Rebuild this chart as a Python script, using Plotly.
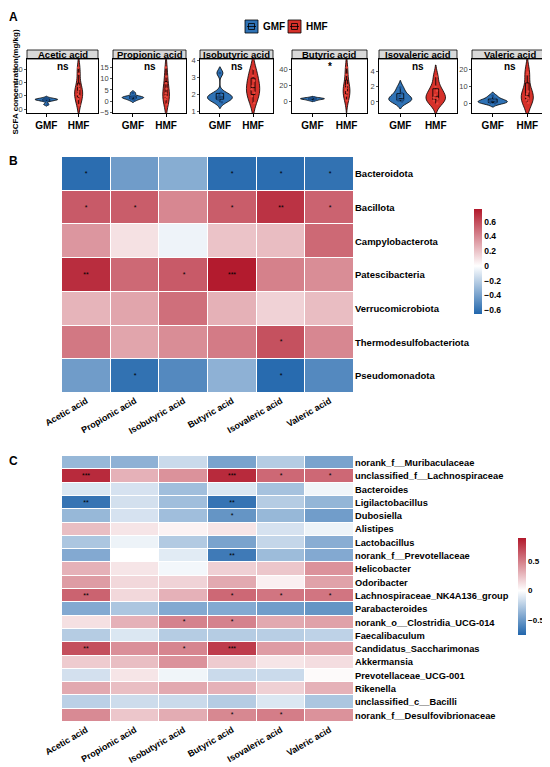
import plotly.graph_objects as go

W, H = 550, 767          # reference picture size
OFF = 8                  # default page margin of the html body
FW, FH = W - OFF, H - OFF
FONT = "Liberation Sans, Arial, sans-serif"

acids = ["Acetic acid", "Propionic acid", "Isobutyric acid",
         "Butyric acid", "Isovaleric acid", "Valeric acid"]
groups = ["GMF", "HMF"]

gmf_acetic = [7, 12, 13.5, 14, 14.5, 15, 16.5]
hmf_acetic = [6, 15, 19, 22, 26, 30, 34, 53, 62]
gmf_propionic = [0.4, 1.1, 1.4, 1.6, 1.9, 2.2, 3.6]
hmf_propionic = [-1.5, 0.8, 1.8, 2.2, 3.5, 5.5, 8, 11, 15]
gmf_isobutyric = [1.55, 1.7, 1.8, 1.85, 1.95, 2.1, 3.25]
hmf_isobutyric = [1.5, 1.9, 2.1, 2.3, 2.5, 2.8, 3.1, 3.5]
gmf_butyric = [1.0, 2.2, 2.8, 3.2, 3.6, 4.5]
hmf_butyric = [1, 7, 11, 14, 16, 20, 33, 42]
gmf_isovaleric = [0.05, 0.2, 0.3, 0.45, 0.8, 1.2, 1.9]
hmf_isovaleric = [-0.2, 0.2, 0.4, 0.6, 0.9, 1.5, 2.0, 3.4]
gmf_valeric = [0.1, 0.5, 0.9, 1.3, 2.0, 2.8, 4.5]
hmf_valeric = [0.5, 2, 3, 4, 5.5, 7, 17, 18]

gmf_values = [gmf_acetic, gmf_propionic, gmf_isobutyric, gmf_butyric, gmf_isovaleric, gmf_valeric]
hmf_values = [hmf_acetic, hmf_propionic, hmf_isobutyric, hmf_butyric, hmf_isovaleric, hmf_valeric]
signif_a = ["ns", "ns", "ns", "*", "ns", "ns"]

y_ranges = [[-6, 75], [-5.3, 18.8], [0.92, 4.07], [-14.7, 52.6], [-1.47, 5.7], [-5.5, 25.9]]
y_ticks = [[0, 20, 40, 60], [-5, 0, 5, 10, 15], [1, 2, 3, 4], [0, 20, 40], [0, 2, 4], [0, 10, 20]]

# ── Panel B data: phylum vs SCFA correlation ─────────────────────────────────
phyla = ["Bacteroidota", "Bacillota", "Campylobacterota", "Patescibacteria",
         "Verrucomicrobiota", "Thermodesulfobacteriota", "Pseudomonadota"]
r_phylum = [
    [-0.62, -0.42, -0.35, -0.62, -0.62, -0.60],
    [0.55, 0.54, 0.40, 0.54, 0.68, 0.52],
    [0.35, 0.10, -0.05, 0.20, 0.22, 0.50],
    [0.70, 0.50, 0.55, 0.76, 0.42, 0.38],
    [0.25, 0.30, 0.48, 0.26, 0.15, 0.22],
    [0.45, 0.30, 0.38, 0.44, 0.58, 0.40],
    [-0.42, -0.60, -0.50, -0.33, -0.63, -0.50],
]
sig_phylum = [
    ["*", "", "", "*", "*", "*"],
    ["*", "*", "", "*", "**", "*"],
    ["", "", "", "", "", ""],
    ["**", "", "*", "***", "", ""],
    ["", "", "", "", "", ""],
    ["", "", "", "", "*", ""],
    ["", "*", "", "", "*", ""],
]

# ── Panel C data: genus vs SCFA correlation ──────────────────────────────────
genera = ["norank_f__Muribaculaceae", "unclassified_f__Lachnospiraceae", "Bacteroides",
          "Ligilactobacillus", "Dubosiella", "Alistipes", "Lactobacillus",
          "norank_f__Prevotellaceae", "Helicobacter", "Odoribacter",
          "Lachnospiraceae_NK4A136_group", "Parabacteroides", "norank_o__Clostridia_UCG-014",
          "Faecalibaculum", "Candidatus_Saccharimonas", "Akkermansia",
          "Prevotellaceae_UCG-001", "Rikenella", "unclassified_c__Bacilli",
          "norank_f__Desulfovibrionaceae"]
r_genus = [
    [-0.35, -0.38, -0.18, -0.45, -0.25, -0.45],
    [0.82, 0.30, 0.42, 0.82, 0.58, 0.58],
    [-0.12, -0.14, -0.32, -0.12, -0.30, -0.05],
    [-0.68, -0.15, -0.32, -0.68, -0.25, -0.36],
    [-0.35, -0.14, -0.32, -0.52, -0.35, -0.48],
    [0.25, 0.10, 0.05, 0.10, -0.14, -0.06],
    [-0.28, -0.06, -0.26, -0.45, -0.20, -0.40],
    [-0.42, 0.00, -0.10, -0.65, -0.33, -0.42],
    [0.30, 0.10, -0.04, 0.18, 0.22, 0.42],
    [0.38, 0.15, 0.17, 0.33, 0.06, 0.36],
    [0.60, 0.15, 0.30, 0.58, 0.53, 0.53],
    [-0.42, -0.28, -0.42, -0.42, -0.48, -0.52],
    [0.12, 0.30, 0.48, 0.48, 0.33, 0.36],
    [-0.25, -0.12, -0.25, -0.25, -0.24, -0.22],
    [0.68, 0.43, 0.47, 0.75, 0.38, 0.36],
    [0.20, 0.25, 0.42, 0.20, 0.10, 0.13],
    [-0.15, 0.10, -0.05, -0.18, -0.18, 0.02],
    [0.33, 0.25, 0.33, 0.30, 0.18, 0.30],
    [-0.23, -0.17, -0.18, -0.25, -0.12, -0.28],
    [0.45, 0.22, 0.32, 0.46, 0.50, 0.42],
]
sig_genus = [
    ["", "", "", "", "", ""],
    ["***", "", "", "***", "*", "*"],
    ["", "", "", "", "", ""],
    ["**", "", "", "**", "", ""],
    ["", "", "", "*", "", ""],
    ["", "", "", "", "", ""],
    ["", "", "", "", "", ""],
    ["", "", "", "**", "", ""],
    ["", "", "", "", "", ""],
    ["", "", "", "", "", ""],
    ["**", "", "", "*", "*", "*"],
    ["", "", "", "", "", ""],
    ["", "", "*", "*", "", ""],
    ["", "", "", "", "", ""],
    ["**", "", "*", "***", "", ""],
    ["", "", "", "", "", ""],
    ["", "", "", "", "", ""],
    ["", "", "", "", "", ""],
    ["", "", "", "", "", ""],
    ["", "", "", "*", "*", ""],
]

# ── Styling ──────────────────────────────────────────────────────────────────
COLORS = {"GMF": "#2F72B5", "HMF": "#D6312A", "GMF_pt": "#1D4F8A", "HMF_pt": "#E8473C"}
BLUE, RED = "#2166AC", "#B2182B"
# violin widths as drawn (ggplot scales them by area)
VIOLIN_W = {"GMF": [0.7, 0.65, 0.75, 0.7, 0.65, 0.85],
            "HMF": [0.25, 0.2, 0.4, 0.2, 0.55, 0.35]}


def px(x, y):
    """reference pixel -> paper coords"""
    return (x - OFF) / FW, 1 - (y - OFF) / FH


def sfx(n):
    return "" if n == 1 else str(n)


def div_scale(zmin, zmax):
    mid = -zmin / (zmax - zmin)
    return [[0, BLUE], [mid, "#FFFFFF"], [1, RED]]


def label(x, y, text, size, xanchor="center", yanchor="middle", xref="paper", yref="paper", **kw):
    annotations.append(dict(x=x, y=y, xref=xref, yref=yref, text=text, showarrow=False,
                            xanchor=xanchor, yanchor=yanchor,
                            font=dict(family=FONT, size=size, color="black", weight="bold"), **kw))


fig = go.Figure()
layout = {}
shapes, annotations = [], []

a_left = [27, 113, 200, 292, 379, 472]
a_right = [98, 186, 273, 367, 457, 548]
a_top, a_bot, strip_top = 59, 113, 50

for i in range(6):
    n = i + 1
    s = sfx(n)
    for grp, vals in (("GMF", gmf_values[i]), ("HMF", hmf_values[i])):
        fig.add_trace(go.Violin(
            x=[grp] * len(vals), y=vals, name=f"{grp}_{n}",
            xaxis=f"x{s}", yaxis=f"y{s}",
            fillcolor=COLORS[grp], opacity=1,
            line=dict(color="black", width=0.8),
            box=dict(visible=True, width=0.3, fillcolor=COLORS[grp],
                     line=dict(color="black", width=0.8)),
            meanline=dict(visible=False),
            points="all", pointpos=0, jitter=0.3,
            marker=dict(size=2.5, color=COLORS[grp + "_pt"]),
            width=VIOLIN_W[grp][i],
            showlegend=False, hoverinfo="y",
        ))
    x0, _ = px(a_left[i], 0)
    x1, _ = px(a_right[i], 0)
    _, y0 = px(0, a_bot)
    _, y1 = px(0, a_top)
    layout[f"xaxis{s}"] = dict(
        domain=[x0, x1], anchor=f"y{s}", range=[-0.6, 1.6], automargin=False,
        categoryorder="array", categoryarray=groups,
        showline=True, linecolor="black", linewidth=0.8, mirror=True,
        ticks="outside", ticklen=3, tickcolor="black",
        tickfont=dict(family=FONT, size=10, color="black", weight="bold"),
        showgrid=False, zeroline=False, fixedrange=True,
    )
    layout[f"yaxis{s}"] = dict(
        domain=[y0, y1], anchor=f"x{s}", range=y_ranges[i], tickvals=y_ticks[i],
        automargin=False,
        showline=True, linecolor="black", linewidth=0.8, mirror=True,
        ticks="outside", ticklen=2, tickcolor="#555",
        tickfont=dict(family=FONT, size=7.5, color="#444"),
        showgrid=False, zeroline=False,
    )
    # facet strip
    sx0, sy0 = px(a_left[i], strip_top)
    sx1, sy1 = px(a_right[i], a_top)
    shapes.append(dict(type="rect", xref="paper", yref="paper", x0=sx0, x1=sx1, y0=sy1, y1=sy0,
                       fillcolor="#D9D9D9", line=dict(color="black", width=0.8), layer="below"))
    label((sx0 + sx1) / 2, (sy0 + sy1) / 2, acids[i], 9.5)
    label(0.5, 0.86, signif_a[i], 10, xref=f"x{s} domain", yref=f"y{s} domain")

# legend for panel A
for grp, kx, tx in (("GMF", 245, 261), ("HMF", 288, 304)):
    x0, y0 = px(kx, 20)
    x1, y1 = px(kx + 13, 33)
    shapes.append(dict(type="rect", xref="paper", yref="paper", x0=x0, x1=x1, y0=y1, y1=y0,
                       fillcolor=COLORS[grp], line=dict(color="black", width=0.8)))
    ix0, iy0 = px(kx + 3.5, 23.5)
    ix1, iy1 = px(kx + 9.5, 29.5)
    shapes.append(dict(type="rect", xref="paper", yref="paper", x0=ix0, x1=ix1, y0=iy1, y1=iy0,
                       fillcolor=COLORS[grp], line=dict(color="black", width=0.8)))
    lx0, ly = px(kx + 2, 26.5)
    lx1, _ = px(kx + 11, 26.5)
    shapes.append(dict(type="line", xref="paper", yref="paper", x0=lx0, x1=lx1, y0=ly, y1=ly,
                       line=dict(color="black", width=0.8)))
    ax, ay = px(tx, 26.5)
    label(ax, ay, grp, 10, xanchor="left")

# y title for panel A (kept inside the figure edge)
tx, ty = px(OFF, 82)
label(tx, ty, "SCFA concentration(mg/kg)", 8, xanchor="left", textangle=-90)

# panel letters
for letter, lx, ly in (("A", 13, 8), ("B", 13, 152), ("C", 13, 452)):
    x, y = px(lx, ly)
    label(x, min(y, 1), letter, 12, yanchor="top")


# ── Heatmaps ─────────────────────────────────────────────────────────────────
def add_heatmap(n, z, rows, sig, zmin, zmax, top, bot, cb_x, cb_top, cb_bot, cb_ticks,
                row_size, cb_size):
    _, cy = px(0, (cb_top + cb_bot) / 2)
    cbx, _ = px(cb_x, 0)
    fig.add_trace(go.Heatmap(
        z=z, x=acids, y=rows, text=sig, texttemplate="%{text}",
        textfont=dict(family=FONT, size=7, color="black"),
        colorscale=div_scale(zmin, zmax), zmin=zmin, zmax=zmax,
        xgap=1, ygap=1, xaxis=f"x{n}", yaxis=f"y{n}",
        colorbar=dict(x=cbx, xanchor="left", y=cy, yanchor="middle",
                      lenmode="pixels", len=cb_bot - cb_top, thickness=8,
                      outlinewidth=0, tickvals=cb_ticks, ticks="", xpad=0, ypad=0,
                      tickfont=dict(family=FONT, size=cb_size, color="black", weight="bold")),
    ))
    x0, y0 = px(62, bot)
    x1, y1 = px(354, top)
    layout[f"xaxis{n}"] = dict(
        domain=[x0, x1], anchor=f"y{n}", tickangle=-30, ticks="", showgrid=False,
        zeroline=False, showline=False, automargin=False,
        tickfont=dict(family=FONT, size=9, color="black", weight="bold"),
    )
    layout[f"yaxis{n}"] = dict(
        domain=[y0, y1], anchor=f"x{n}", side="right", autorange="reversed", ticks="",
        showgrid=False, zeroline=False, showline=False, automargin=False,
        tickfont=dict(family=FONT, size=row_size, color="black", weight="bold"),
    )


add_heatmap(7, r_phylum, phyla, sig_phylum, -0.65, 0.77, 157, 393,
            474, 209, 314, [-0.6, -0.4, -0.2, 0, 0.2, 0.4, 0.6], 9.5, 8.5)
add_heatmap(8, r_genus, genera, sig_genus, -0.75, 0.89, 456, 722,
            518, 538, 635, [-0.5, 0, 0.5], 9.3, 8)

fig.update_layout(
    width=FW, height=FH,
    margin=dict(l=0, r=0, t=0, b=0, autoexpand=False),
    paper_bgcolor="white", plot_bgcolor="white",
    font=dict(family=FONT, color="black"),
    showlegend=False,
    shapes=shapes, annotations=annotations,
    violinmode="overlay",
    **layout,
)

fig.write_html("out.html")
